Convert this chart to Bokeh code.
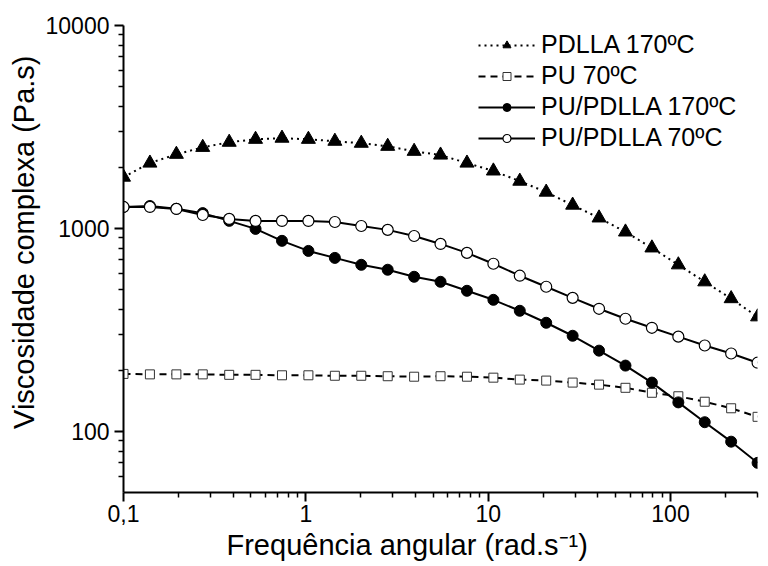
from bokeh.plotting import figure
from bokeh.models import FixedTicker, Legend, LegendItem, CustomJSTickFormatter, Title
from bokeh.embed import file_html
from bokeh.resources import INLINE

freq = [0.1, 0.1396, 0.195, 0.272, 0.380, 0.530, 0.740, 1.033, 1.443, 2.014,
        2.812, 3.926, 5.48, 7.65, 10.68, 14.91, 20.81, 29.06, 40.56, 56.63,
        79.07, 110.4, 154.1, 215.1, 300.3]

pdlla_170 = [1790, 2100, 2320, 2510, 2660, 2750, 2785, 2750, 2690, 2630,
             2540, 2400, 2300, 2100, 1920, 1710, 1510, 1303, 1127, 961,
             802, 662, 546, 451, 367]

pu_70 = [192, 191, 191, 191, 190, 190, 189, 189, 188, 188,
         187, 186, 187, 186, 184, 180, 178, 174, 170, 164,
         155, 149, 140, 130, 118]

pu_pdlla_170 = [1276, 1290, 1250, 1190, 1090, 995, 869, 775, 716, 662,
                626, 578, 546, 493, 445, 393, 343, 296, 250, 211,
                174, 139, 111, 89, 70]

pu_pdlla_70 = [1276, 1276, 1248, 1165, 1114, 1089, 1089, 1089, 1076, 1028,
               984, 918, 839, 758, 670, 585, 516, 455, 402, 359,
               324, 293, 265, 242, 218]

x_major = [0.1, 1, 10, 100]
x_minor = [0.2, 0.3, 0.4, 0.5, 0.6, 0.7, 0.8, 0.9,
           2, 3, 4, 5, 6, 7, 8, 9,
           20, 30, 40, 50, 60, 70, 80, 90, 200, 300]
y_major = [100, 1000, 10000]
y_minor = [60, 70, 80, 90, 200, 300, 400, 500, 600, 700, 800, 900,
           2000, 3000, 4000, 5000, 6000, 7000, 8000, 9000]

x_title = "Frequência angular (rad.s⁻¹)"
y_title = "Viscosidade complexa (Pa.s)"

FONT = "Liberation Sans"

p = figure(width=768, height=566, x_axis_type="log", y_axis_type="log",
           x_range=(0.1, 300), y_range=(50, 10000),
           output_backend="svg", toolbar_location=None,
           min_border_left=123, min_border_right=11,
           min_border_top=25, min_border_bottom=74)
p.outline_line_color = None
p.grid.visible = False
p.background_fill_color = "white"
p.border_fill_color = "white"

# series
r1l = p.line(freq, pdlla_170, line_color="black", line_width=2, line_dash="2 4")
r1m = p.scatter(freq, pdlla_170, marker="triangle", size=14, fill_color="black",
                line_color="black")

r2l = p.line(freq, pu_70, line_color="black", line_width=2, line_dash="7 5")
r2m = p.scatter(freq, pu_70, marker="square", size=9, fill_color="white",
                line_color="#333333", line_width=1)

r3l = p.line(freq, pu_pdlla_170, line_color="black", line_width=2)
r3m = p.scatter(freq, pu_pdlla_170, marker="circle", size=11, fill_color="black",
                line_color="black")

r4l = p.line(freq, pu_pdlla_70, line_color="black", line_width=2)
r4m = p.scatter(freq, pu_pdlla_70, marker="circle", size=11, fill_color="white",
                line_color="black", line_width=1.2)

# axes
for ax in (p.xaxis[0], p.yaxis[0]):
    ax.axis_line_width = 2
    ax.major_tick_line_width = 2
    ax.minor_tick_line_width = 1.5
    ax.major_tick_out = 9
    ax.major_tick_in = 0
    ax.minor_tick_out = 5
    ax.minor_tick_in = 0
    ax.major_label_text_font = FONT
    ax.major_label_text_font_size = "23px"
    ax.major_label_text_color = "black"

p.xaxis.ticker = FixedTicker(ticks=x_major, minor_ticks=x_minor)
p.yaxis.ticker = FixedTicker(ticks=y_major, minor_ticks=y_minor)
p.xaxis.formatter = CustomJSTickFormatter(code="return tick < 1 ? tick.toString().replace('.', ',') : tick.toFixed(0);")
p.yaxis.formatter = CustomJSTickFormatter(code="return tick.toFixed(0);")
p.xaxis.major_label_standoff = 3
p.yaxis.major_label_standoff = 5

xt = Title(text=x_title, align="left", offset=103, standoff=4,
           text_font=FONT, text_font_size="29px", text_font_style="normal",
           text_color="black")
p.add_layout(xt, "below")
yt = Title(text=y_title, align="right", offset=30, standoff=6,
           text_font=FONT, text_font_size="29px", text_font_style="normal",
           text_color="black")
p.add_layout(yt, "left")

legend = Legend(items=[
    LegendItem(label="PDLLA 170ºC", renderers=[r1l, r1m]),
    LegendItem(label="PU 70ºC", renderers=[r2l, r2m]),
    LegendItem(label="PU/PDLLA 170ºC", renderers=[r3l, r3m]),
    LegendItem(label="PU/PDLLA 70ºC", renderers=[r4l, r4m]),
], location=(355, 340))
legend.border_line_color = None
legend.background_fill_alpha = 0
legend.label_text_font = FONT
legend.label_text_font_size = "25px"
legend.label_text_color = "black"
legend.glyph_width = 57
legend.glyph_height = 20
legend.label_height = 20
legend.label_standoff = 6
legend.spacing = 2
legend.padding = 0
legend.margin = 0
p.add_layout(legend, "center")

open("out.html", "w").write(file_html(p, INLINE))
